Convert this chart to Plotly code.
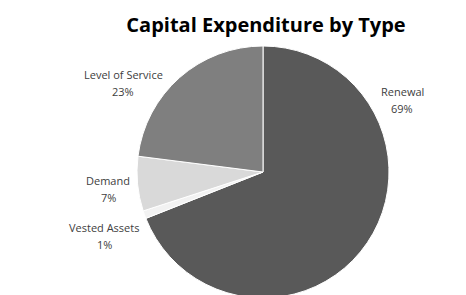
import plotly.graph_objects as go

categories = ["Renewal", "Vested Assets", "Demand", "Level of Service"]
values = [69, 1, 7, 23]
colors = ["#595959", "#f2f2f2", "#d9d9d9", "#7f7f7f"]
# label anchor positions (x, y of first line) in the 466x295 reference canvas
label_px = {"Renewal": (402, 91), "Vested Assets": (104, 227),
            "Demand": (108, 180), "Level of Service": (123, 74)}
LINE_GAP = 17

W, H = 466, 295
OFF = 8  # page body margin offset
cx, top, bottom = 263 - OFF, 46 - OFF, 298 - OFF
r = (bottom - top) / 2

fig = go.Figure(go.Pie(
    labels=categories, values=values, sort=False, direction="clockwise",
    rotation=0, textinfo="none", hoverinfo="label+percent",
    marker=dict(colors=colors, line=dict(color="white", width=1)),
    domain=dict(x=[(cx - r) / W, (cx + r) / W], y=[(H - bottom) / H, (H - top) / H]),
    showlegend=False,
))

total = sum(values)
lab_font = dict(family="Open Sans", size=11, color="#404040")
for cat, v in zip(categories, values):
    px, py = label_px[cat]
    for i, txt in enumerate([cat, f"{round(100 * v / total)}%"]):
        fig.add_annotation(x=(px - OFF) / W, y=1 - (py + i * LINE_GAP - OFF) / H,
                           xref="paper", yref="paper", text=txt, showarrow=False,
                           font=lab_font, xanchor="center", yanchor="middle")

fig.update_layout(
    width=W, height=H, margin=dict(l=0, r=0, t=0, b=0),
    paper_bgcolor="white", plot_bgcolor="white",
    title=dict(text="<b>Capital Expenditure by Type</b>", x=(266 - OFF) / W, xanchor="center",
               y=1 - (25 - OFF) / H, yanchor="middle", yref="container",
               font=dict(family="Open Sans", size=20, color="black")),
)
fig.write_html("out.html")
